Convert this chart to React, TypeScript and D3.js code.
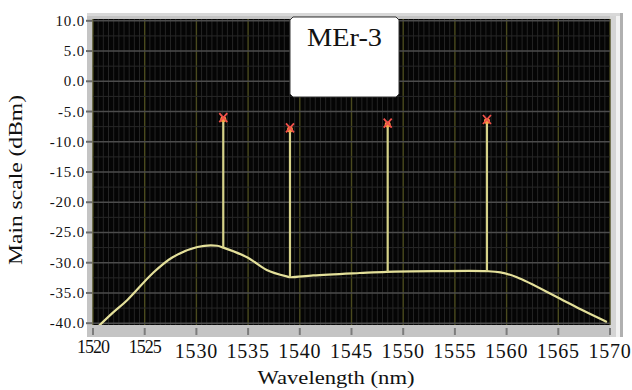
import * as d3 from 'd3'

// ASE baseline (nm, dBm)
const aseWl = [1520.6, 1521.9, 1523.3, 1525.8, 1527.7, 1530.1, 1532.0, 1532.6, 1534.9, 1536.8, 1538.8, 1539.1, 1541.3, 1545.8, 1548.4, 1553.0, 1558.1, 1559.4, 1561.0, 1564.9, 1567.5, 1569.7]
const aseDbm = [-40.4, -38.3, -36.2, -31.7, -29.1, -27.4, -27.2, -27.5, -29.1, -31.2, -32.3, -32.4, -32.1, -31.7, -31.5, -31.4, -31.4, -31.6, -32.4, -35.7, -38.0, -39.8]

// laser lines
const peakWl = [1532.6, 1539.05, 1548.5, 1558.1]
const peakDbm = [-6.1, -7.8, -7.0, -6.4]
const peakFloor = [-27.5, -32.4, -31.5, -31.4]

const xTicks = [1520, 1525, 1530, 1535, 1540, 1545, 1550, 1555, 1560, 1565, 1570]
const yTicks = [10, 5, 0, -5, -10, -15, -20, -25, -30, -35, -40]

const W = 632
const H = 390
const PLOT = { left: 93, right: 610, top: 19, bottom: 325 }

export default function App() {
  const x = d3.scaleLinear().domain([1520, 1570]).range([PLOT.left, PLOT.right])
  const y = d3.scaleLinear().domain([-40.3, 10.3]).range([PLOT.bottom, PLOT.top])

  const ase = aseWl.map((w, i) => [w, aseDbm[i]] as [number, number])
  const line = d3.line<[number, number]>()
    .x(d => x(d[0]))
    .y(d => y(d[1]))
    .curve(d3.curveCatmullRom.alpha(0.5))

  // dense background grid
  const minorX = d3.range(1520, 1570.01, 0.5)
  const minorY = d3.range(-40, 10.01, 2.5)

  const serif = 'Liberation Serif'

  return (
    <svg width={W} height={H} style={{ position: 'absolute', left: 0, top: 0, background: '#fff' }}>
      <defs>
        <clipPath id="plotClip">
          <rect x={PLOT.left} y={PLOT.top} width={PLOT.right - PLOT.left} height={PLOT.bottom - PLOT.top} />
        </clipPath>
      </defs>

      {/* frame */}
      <rect x={87} y={13} width={536} height={324} fill="#c4c4c4" />
      <rect x={87} y={13} width={536} height={3} fill="#d8d8d8" />
      <rect x={PLOT.right} y={16} width={6} height={321} fill="#d4d4d4" />
      <rect x={616} y={16} width={4} height={321} fill="#f2f2f2" />
      <rect x={620} y={13} width={3} height={324} fill="#b0b0b0" />

      {/* plot area */}
      <rect x={PLOT.left} y={PLOT.top} width={PLOT.right - PLOT.left} height={PLOT.bottom - PLOT.top} fill="#050505" />
      <g>
        {minorX.map(v => (
          <line key={'vx' + v} x1={x(v)} x2={x(v)} y1={PLOT.top} y2={PLOT.bottom}
            stroke={v % 5 === 0 ? '#4a4a1e' : '#252525'} strokeWidth={v % 5 === 0 ? 1.4 : 1} />
        ))}
        {minorY.map(v => (
          <line key={'hy' + v} x1={PLOT.left} x2={PLOT.right} y1={y(v)} y2={y(v)}
            stroke={v % 5 === 0 ? '#4c4c4c' : '#282828'} strokeWidth={v % 5 === 0 ? 1.6 : 1} />
        ))}
      </g>

      {/* ASE curve */}
      <path d={line(ase) ?? ''} fill="none" stroke="#e4e09a" strokeWidth={2.2} clipPath="url(#plotClip)" />

      {/* laser peaks */}
      {peakWl.map((w, i) => {
        const px = x(w)
        const py = y(peakDbm[i])
        return (
          <g key={'p' + i}>
            <line x1={px} x2={px} y1={py} y2={y(peakFloor[i])} stroke="#d6d288" strokeWidth={2.2} />
            <circle cx={px} cy={py + 1} r={3} fill="#f5a040" />
            <path d={`M${px - 4},${py - 5}L${px + 4},${py + 4}M${px + 4},${py - 5}L${px - 4},${py + 4}`}
              stroke="#f0504a" strokeWidth={1.8} fill="none" />
          </g>
        )
      })}

      {/* legend box */}
      <path d="M293,17 L396,17 L399,20 L399,94 L396,97 L293,97 L290,94 L290,20 Z"
        fill="#ffffff" stroke="#333" strokeWidth={1} />
      <text x={344.5} y={46} textAnchor="middle" fontFamily={serif} fontSize={26}
        textLength={75} lengthAdjust="spacingAndGlyphs" fill="#111">MEr-3</text>

      {/* axis ticks */}
      {xTicks.map(t => (
        <line key={'xt' + t} x1={x(t)} x2={x(t)} y1={328} y2={335} stroke="#7c7c7c" strokeWidth={2} />
      ))}
      {yTicks.map(t => (
        <line key={'yt' + t} x1={86} x2={92} y1={y(t)} y2={y(t)} stroke="#6a6a6a" strokeWidth={2} />
      ))}

      {/* tick labels */}
      {xTicks.map(t => {
        const small = t < 1530
        return (
          <text key={'xl' + t} x={x(t)} y={small ? 353 : 358} textAnchor="middle"
            fontFamily={serif} fontSize={small ? 18 : 20} letterSpacing={small ? -1 : 0.8} fill="#111">
            {t}
          </text>
        )
      })}
      {yTicks.map(t => (
        <text key={'yl' + t} x={85} y={y(t) + 5} textAnchor="end" fontFamily={serif}
          fontSize={15} letterSpacing={0.8} fill="#111">
          {t.toFixed(1)}
        </text>
      ))}

      {/* axis titles */}
      <text x={336} y={384} textAnchor="middle" fontFamily={serif} fontSize={19}
        textLength={157} lengthAdjust="spacingAndGlyphs" fill="#111">Wavelength (nm)</text>
      <text transform="translate(22,180) rotate(-90)" textAnchor="middle" fontFamily={serif}
        fontSize={19} textLength={170} lengthAdjust="spacingAndGlyphs" fill="#111">Main scale (dBm)</text>
    </svg>
  )
}
